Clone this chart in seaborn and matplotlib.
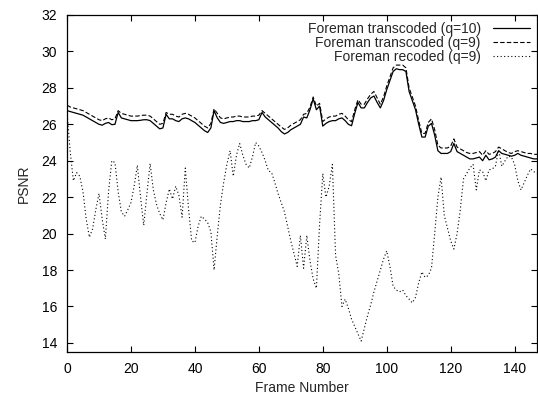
import matplotlib
matplotlib.use("Agg")
import matplotlib.pyplot as plt
import seaborn as sns
import pandas as pd
import numpy as np

# PSNR per frame
transcoded_q10 = [
    26.75, 26.70, 26.65, 26.60, 26.55, 26.50, 26.40, 26.30, 26.20, 26.10,
    26.00, 25.95, 26.05, 26.10, 25.98, 26.00, 26.65, 26.35, 26.30, 26.25,
    26.20, 26.20, 26.20, 26.22, 26.25, 26.25, 26.20, 26.05, 25.90, 25.75,
    25.80, 26.55, 26.30, 26.30, 26.20, 26.15, 26.30, 26.35, 26.30, 26.20,
    26.10, 25.95, 25.80, 25.65, 25.55, 25.80, 26.75, 26.35, 26.10, 26.05,
    26.10, 26.15, 26.15, 26.20, 26.20, 26.15, 26.15, 26.15, 26.20, 26.20,
    26.25, 26.65, 26.40, 26.25, 26.10, 25.95, 25.80, 25.60, 25.47, 25.55,
    25.70, 25.80, 25.90, 26.00, 26.40, 26.35, 26.80, 27.40, 26.80, 27.00,
    25.90, 26.05, 26.15, 26.20, 26.20, 26.30, 26.35, 26.20, 26.00, 25.92,
    26.60, 27.20, 26.90, 26.90, 27.20, 27.45, 27.55, 27.20, 26.90, 27.30,
    27.90, 28.40, 28.90, 29.05, 29.00, 29.00, 28.90, 27.80, 27.30, 26.80,
    26.00, 25.30, 25.30, 25.90, 26.05, 25.40, 24.55, 24.40, 24.40, 24.40,
    24.50, 24.95, 24.50, 24.40, 24.30, 24.20, 24.10, 24.10, 24.15, 24.20,
    24.00, 24.30, 24.05, 24.10, 24.20, 24.55, 24.40, 24.35, 24.30, 24.25,
    24.30, 24.40, 24.30, 24.25, 24.20, 24.15, 24.10, 24.10,
]

transcoded_q9 = [
    27.05, 26.95, 26.90, 26.85, 26.80, 26.75, 26.65, 26.55, 26.45, 26.35,
    26.25, 26.20, 26.30, 26.35, 26.25, 26.30, 26.75, 26.60, 26.55, 26.50,
    26.45, 26.45, 26.45, 26.48, 26.50, 26.50, 26.45, 26.30, 26.15, 26.00,
    26.05, 26.65, 26.55, 26.55, 26.45, 26.40, 26.55, 26.60, 26.55, 26.45,
    26.35, 26.20, 26.05, 25.90, 25.80, 26.05, 26.85, 26.60, 26.35, 26.30,
    26.35, 26.40, 26.40, 26.45, 26.45, 26.40, 26.40, 26.40, 26.45, 26.45,
    26.50, 26.75, 26.60, 26.45, 26.30, 26.15, 26.00, 25.85, 25.72, 25.80,
    25.95, 26.05, 26.15, 26.25, 26.55, 26.60, 26.95, 27.50, 27.00, 27.15,
    26.15, 26.30, 26.40, 26.45, 26.45, 26.55, 26.60, 26.45, 26.25, 26.15,
    26.80, 27.35, 27.10, 27.10, 27.40, 27.65, 27.80, 27.45, 27.10, 27.50,
    28.10, 28.60, 29.10, 29.25, 29.25, 29.25, 29.10, 28.00, 27.50, 27.00,
    26.20, 25.50, 25.50, 26.10, 26.30, 25.70, 24.85, 24.70, 24.70, 24.70,
    24.80, 25.20, 24.75, 24.65, 24.55, 24.45, 24.40, 24.40, 24.45, 24.50,
    24.30, 24.55, 24.35, 24.40, 24.50, 24.75, 24.65, 24.55, 24.45, 24.40,
    24.50, 24.55, 24.50, 24.45, 24.40, 24.40, 24.35, 24.35,
]

recoded_q9 = [
    26.70, 24.50, 22.90, 23.35, 23.15, 22.30, 20.80, 19.80, 20.25, 21.30,
    22.20, 20.80, 19.70, 22.30, 24.00, 23.90, 22.30, 21.20, 20.95, 21.30,
    21.70, 22.60, 23.75, 22.00, 20.45, 22.20, 23.85, 22.40, 21.60, 21.10,
    20.75, 21.70, 22.45, 21.90, 22.60, 22.10, 20.90, 23.60, 21.40, 19.60,
    19.50, 20.40, 20.95, 20.80, 20.60, 20.10, 18.00, 19.90, 21.60, 22.80,
    23.80, 24.55, 23.15, 24.30, 24.95, 24.30, 23.80, 23.60, 24.20, 25.00,
    24.80, 24.45, 24.00, 23.45, 23.35, 22.80, 22.20, 21.70, 21.20, 20.40,
    19.60, 18.90, 18.20, 19.90, 18.10, 19.90, 18.50, 17.50, 17.00, 20.50,
    23.30, 22.00, 22.60, 23.80, 18.80, 17.80, 16.00, 16.40, 15.90, 15.30,
    14.90, 14.50, 14.10, 14.80, 15.50, 16.10, 16.80, 17.40, 18.00, 18.60,
    19.05, 18.20, 17.10, 16.90, 16.80, 16.90, 16.60, 16.40, 16.20, 16.50,
    17.30, 17.90, 17.60, 17.70, 18.10, 20.00, 22.00, 23.10, 21.00, 20.30,
    19.60, 19.15, 20.00, 21.30, 23.00, 23.30, 23.60, 23.80, 22.40, 23.50,
    23.40, 22.90, 23.50, 23.55, 23.70, 24.60, 23.70, 24.00, 24.25, 24.20,
    23.80, 22.90, 22.40, 22.80, 23.20, 23.55, 23.40, 23.30,
]

frames = list(range(len(transcoded_q10)))
labels = ["Foreman transcoded (q=10)", "Foreman transcoded (q=9)", "Foreman recoded (q=9)"]

sns.set_style("ticks")
plt.rcParams["font.family"] = ["Liberation Sans", "DejaVu Sans"]

fig = plt.figure(figsize=(5.38, 3.94), dpi=100)
ax = fig.add_axes([67 / 538, 1 - 352 / 394, 470 / 538, 337 / 394])

df = pd.DataFrame({"frame": frames, "q10": transcoded_q10,
                   "q9": transcoded_q9, "rec": recoded_q9})

sns.lineplot(data=df, x="frame", y="q10", ax=ax, color="black", lw=0.9,
             label=labels[0])
sns.lineplot(data=df, x="frame", y="q9", ax=ax, color="black", lw=0.8,
             dashes=False, label=labels[1])
sns.lineplot(data=df, x="frame", y="rec", ax=ax, color="black", lw=0.8,
             label=labels[2])
ax.lines[1].set_dashes((4, 2))
ax.lines[2].set_dashes((1, 2.2))

ax.set_xlim(0, 147)
ax.set_ylim(13.5, 32)
ax.set_xticks(np.arange(0, 141, 20))
ax.set_yticks(np.arange(14, 33, 2))
ax.tick_params(direction="in", length=4, width=0.8, labelsize=10,
               top=True, right=True, pad=7, colors="black")
for s in ax.spines.values():
    s.set_linewidth(0.9)
    s.set_color("black")
    s.set_visible(True)

ax.set_xlabel("Frame Number", fontsize=10, labelpad=4)
ax.set_ylabel("PSNR", fontsize=10, labelpad=8)

leg = ax.legend(loc="upper right", frameon=False, markerfirst=False,
                fontsize=10, handlelength=2.7, handletextpad=0.85,
                labelspacing=0.0, borderaxespad=0.3, borderpad=0.2)

fig.savefig("out.png", dpi=100)
